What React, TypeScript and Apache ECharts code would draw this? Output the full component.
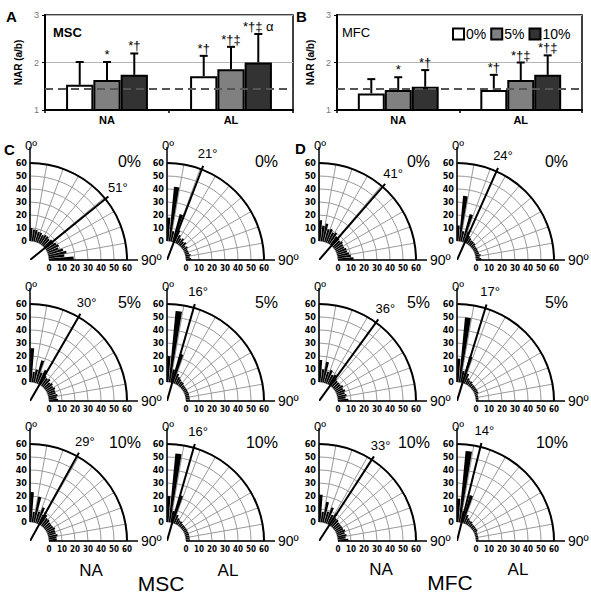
import React, { useEffect, useRef } from 'react';
import * as echarts from 'echarts';

// ---------- data ----------
const groups = ['NA', 'AL'];
const concentrations = ['0%', '5%', '10%'];
const baselineNAR = 1.44;

// Panel A (MSC)
const mscMean0 = [1.53, 1.71];
const mscMean5 = [1.63, 1.86];
const mscMean10 = [1.74, 2.0];
const mscErr0 = [2.01, 2.14];
const mscErr5 = [2.01, 2.33];
const mscErr10 = [2.19, 2.6];
const mscSig0 = ['', '*†'];
const mscSig5 = ['*', '*†‡'];
const mscSig10 = ['*†', '*†‡ α'];

// Panel B (MFC)
const mfcMean0 = [1.35, 1.42];
const mfcMean5 = [1.42, 1.63];
const mfcMean10 = [1.49, 1.74];
const mfcErr0 = [1.65, 1.74];
const mfcErr5 = [1.69, 2.0];
const mfcErr10 = [1.84, 2.15];
const mfcSig0 = ['', '*†'];
const mfcSig5 = ['*', '*†‡'];
const mfcSig10 = ['*†', '*†‡'];

// Panels C, D: angular distributions (5° bins, 0°..90°)
const angleBins = ['0', '5', '10', '15', '20', '25', '30', '35', '40', '45', '50', '55', '60', '65', '70', '75', '80', '85'];
const mscNa0 = [10, 9, 9, 8, 8, 7, 8, 8, 7, 8, 8, 9, 10, 9, 12, 14, 12, 19];
const mscAl0 = [18, 42, 8, 22, 10, 7, 5, 6, 4, 5, 3, 4, 3, 3, 3, 4, 3, 4];
const mscNa5 = [26, 8, 10, 18, 9, 12, 8, 7, 8, 6, 7, 6, 7, 6, 6, 7, 6, 7];
const mscAl5 = [20, 55, 10, 23, 8, 6, 5, 4, 4, 3, 3, 3, 3, 3, 3, 3, 3, 3];
const mscNa10 = [23, 8, 20, 9, 13, 8, 9, 7, 7, 6, 6, 6, 7, 6, 6, 7, 6, 6];
const mscAl10 = [20, 53, 9, 22, 7, 5, 4, 4, 3, 3, 3, 3, 3, 3, 3, 3, 3, 3];
const mfcNa0 = [16, 12, 14, 10, 11, 9, 10, 8, 8, 7, 8, 7, 7, 8, 8, 9, 10, 12];
const mfcAl0 = [12, 35, 8, 22, 9, 6, 5, 4, 4, 4, 3, 3, 3, 3, 3, 4, 3, 4];
const mfcNa5 = [17, 10, 16, 9, 11, 8, 9, 7, 6, 6, 6, 7, 6, 7, 6, 7, 6, 8];
const mfcAl5 = [18, 50, 9, 21, 8, 5, 4, 4, 3, 3, 3, 3, 3, 3, 2, 2, 2, 2];
const mfcNa10 = [21, 8, 16, 9, 13, 8, 10, 7, 7, 6, 6, 6, 6, 7, 6, 7, 6, 8];
const mfcAl10 = [18, 55, 9, 22, 7, 5, 4, 4, 3, 3, 3, 3, 3, 2, 2, 2, 2, 2];
const mscNaMean = [51, 30, 29];
const mscAlMean = [21, 16, 16];
const mfcNaMean = [41, 36, 33];
const mfcAlMean = [24, 17, 14];

// ---------- layout / style ----------
const FONT = "'Liberation Sans', Arial, sans-serif";
const NARROW = "'Liberation Sans Narrow', 'DejaVu Sans Condensed', sans-serif";
const BAR_COLORS = ['#ffffff', '#808080', '#333333'];
const BAR_GAP = 0.34;
const COL_X = [30, 167, 319, 457];
const ROW_Y = [260, 401, 541];
const R0 = 19;
const R1 = 97;
const MEAN_MAX = 1.2;

function errorSeries(gi: number, k: number, means: number[], tops: number[], sigs: string[]) {
  return {
    type: 'custom',
    xAxisIndex: gi,
    yAxisIndex: gi,
    z: 4,
    silent: true,
    data: means.map((m, i) => [i, m, tops[i]]),
    renderItem: (params: any, api: any) => {
      const i = api.value(0);
      const top = api.coord([i, api.value(2)]);
      const bot = api.coord([i, api.value(1)]);
      const band = api.size([1, 0])[0];
      const bw = (band * (1 - BAR_GAP)) / 3;
      const x = top[0] + (k - 1) * bw;
      const children: any[] = [
        { type: 'line', shape: { x1: x, y1: bot[1], x2: x, y2: top[1] }, style: { stroke: '#000', lineWidth: 2 } },
        { type: 'line', shape: { x1: x - 4, y1: top[1], x2: x + 4, y2: top[1] }, style: { stroke: '#000', lineWidth: 2 } },
      ];
      const s = sigs[params.dataIndex];
      if (s) {
        children.push({
          type: 'text',
          x,
          y: top[1] - 1,
          style: { text: s, align: 'center', verticalAlign: 'bottom', fontSize: 13, fontFamily: FONT, fill: '#000' },
        });
      }
      return { type: 'group', children };
    },
  };
}

function buildOption() {
  const polar: any[] = [];
  const angleAxis: any[] = [];
  const radiusAxis: any[] = [];
  const series: any[] = [];
  const graphic: any[] = [];

  // ---- bar charts A & B ----
  const barSets = [
    { means: [mscMean0, mscMean5, mscMean10], errs: [mscErr0, mscErr5, mscErr10], sigs: [mscSig0, mscSig5, mscSig10] },
    { means: [mfcMean0, mfcMean5, mfcMean10], errs: [mfcErr0, mfcErr5, mfcErr10], sigs: [mfcSig0, mfcSig5, mfcSig10] },
  ];
  barSets.forEach((set, gi) => {
    concentrations.forEach((name, k) => {
      const s: any = {
        type: 'bar',
        name,
        xAxisIndex: gi,
        yAxisIndex: gi,
        data: set.means[k],
        barGap: '0%',
        barCategoryGap: BAR_GAP * 100 + '%',
        itemStyle: { color: BAR_COLORS[k], borderColor: '#000', borderWidth: 2 },
        z: 2,
      };
      if (k === 0) {
        s.markLine = {
          silent: true,
          symbol: 'none',
          label: { show: false },
          lineStyle: { type: [8, 5], color: '#555', width: 2 },
          data: [{ yAxis: baselineNAR }],
          z: 6,
        };
      }
      series.push(s);
      series.push(errorSeries(gi, k, set.means[k], set.errs[k], set.sigs[k]));
    });
  });

  // ---- polar rose plots C & D ----
  const cols = [
    { data: [mscNa0, mscNa5, mscNa10], mean: mscNaMean },
    { data: [mscAl0, mscAl5, mscAl10], mean: mscAlMean },
    { data: [mfcNa0, mfcNa5, mfcNa10], mean: mfcNaMean },
    { data: [mfcAl0, mfcAl5, mfcAl10], mean: mfcAlMean },
  ];
  const radLabel = { show: true, fontSize: 8, fontWeight: 'bold', fontFamily: NARROW, color: '#000' };
  cols.forEach((col, c) => {
    concentrations.forEach((conc, r) => {
      const cx = COL_X[c];
      const cy = ROW_Y[r];
      const b = polar.length;
      polar.push(
        { center: [cx, cy], radius: [R0, R1] },
        { center: [cx, cy], radius: [R0, R1] },
        { center: [cx, cy], radius: [R0, R1] },
        { center: [cx, cy], radius: [0, R1 * MEAN_MAX] }
      );
      angleAxis.push(
        {
          polarIndex: b, type: 'value', min: 0, max: 90, interval: 10, startAngle: 90, endAngle: 0, clockwise: true,
          axisLine: { show: false },
          axisTick: { show: false }, axisLabel: { show: false },
          splitLine: { show: true, lineStyle: { color: '#9a9a9a', width: 1 } },
        },
        { polarIndex: b + 1, type: 'value', min: 0, max: 90, startAngle: 0, endAngle: 90, clockwise: false, show: false },
        { polarIndex: b + 2, type: 'category', data: angleBins, startAngle: 90, endAngle: 0, clockwise: true, show: false },
        { polarIndex: b + 3, type: 'value', min: 0, max: 90, startAngle: 90, endAngle: 0, clockwise: true, show: false }
      );
      radiusAxis.push(
        {
          polarIndex: b, type: 'value', min: 0, max: 60, interval: 10,
          axisLine: { show: false }, axisTick: { show: false },
          axisLabel: { ...radLabel, fontSize: 9, margin: 3 },
          splitLine: { show: true, lineStyle: { color: '#9a9a9a', width: 1 } },
        },
        {
          polarIndex: b + 1, type: 'value', min: 0, max: 60, interval: 10,
          axisLine: { show: false }, axisTick: { show: false },
          axisLabel: { ...radLabel, margin: -4, verticalAlign: 'top', align: 'center', showMinLabel: true },
          splitLine: { show: false },
        },
        { polarIndex: b + 2, type: 'value', min: 0, max: 60, show: false },
        { polarIndex: b + 3, type: 'value', min: 0, max: MEAN_MAX, show: false }
      );
      const theta = col.mean[r];
      series.push(
        {
          type: 'bar', coordinateSystem: 'polar', polarIndex: b + 2, data: col.data[r],
          barCategoryGap: '18%', itemStyle: { color: '#000' }, silent: true, z: 3,
        },
        {
          type: 'line', coordinateSystem: 'polar', polarIndex: b + 3,
          data: [[0, theta], [1.04, theta]], symbol: 'none', clip: false,
          lineStyle: { color: '#000', width: 2 }, silent: true, z: 5,
        },
        {
          type: 'scatter', coordinateSystem: 'polar', polarIndex: b + 3,
          data: [[1.165, theta]], symbolSize: 1, itemStyle: { color: '#000', opacity: 0 }, silent: true, z: 5,
          label: {
            show: true, position: 'top', distance: -6, formatter: theta + '°', fontSize: 13, fontFamily: FONT,
            color: '#000', textBorderWidth: 0, textBorderColor: 'transparent', opacity: 1,
          },
        }
      );
      graphic.push(
        {
          type: 'arc', z: 10,
          shape: { cx, cy, r: R1, startAngle: -Math.PI / 2, endAngle: 0, clockwise: true },
          style: { stroke: '#000', lineWidth: 2, fill: 'none' },
        },
        { type: 'line', z: 10, shape: { x1: cx, y1: cy - R0, x2: cx, y2: cy - 113 }, style: { stroke: '#000', lineWidth: 1.5 } },
        { type: 'line', z: 10, shape: { x1: cx + R0, y1: cy, x2: cx + 108, y2: cy }, style: { stroke: '#000', lineWidth: 1.5 } },
        { type: 'text', x: cx + 1, y: cy - 115, style: { text: '0º', fontSize: 13, fontFamily: FONT, fill: '#000', align: 'center', verticalAlign: 'middle' } },
        { type: 'text', x: cx + 111, y: cy, style: { text: '90º', fontSize: 14, fontFamily: FONT, fill: '#000', align: 'left', verticalAlign: 'middle' } },
        { type: 'text', x: cx + 111, y: cy - 99, style: { text: conc, fontSize: 16, fontFamily: FONT, fill: '#000', align: 'right', verticalAlign: 'middle' } }
      );
    });
  });

  const txt = (text: string, x: number, y: number, fontSize: number, fontWeight = 'normal', align = 'center') => ({
    type: 'text', x, y, z: 10,
    style: { text, fontSize, fontWeight, fontFamily: FONT, fill: '#000', align, verticalAlign: 'middle' },
  });
  graphic.push(
    txt('A', 6, 16, 15, 'bold', 'left'),
    txt('B', 296, 16, 15, 'bold', 'left'),
    txt('C', 4, 149, 15, 'bold', 'left'),
    txt('D', 295, 148, 15, 'bold', 'left'),
    txt('MSC', 53, 32, 13, 'bold', 'left'),
    txt('MFC', 342, 32, 13, 'normal', 'left'),
    txt('NA', 91, 570, 17),
    txt('AL', 228, 570, 17),
    txt('MSC', 161, 583, 21),
    txt('NA', 381, 569, 17),
    txt('AL', 518, 569, 17),
    txt('MFC', 450, 582, 21)
  );

  const mkX = (gi: number) => ({
    gridIndex: gi, type: 'category', data: groups,
    axisLine: { show: true, lineStyle: { color: '#000', width: 2 } },
    axisTick: { show: true, length: 3, lineStyle: { color: '#000', width: 1.5 } },
    axisLabel: { fontWeight: 'bold', fontSize: 11, color: '#000', margin: 4, fontFamily: FONT },
  });
  const mkY = (gi: number) => ({
    gridIndex: gi, type: 'value', min: 1, max: 3, interval: 1,
    name: 'NAR (a/b)', nameLocation: 'middle', nameGap: 22,
    nameTextStyle: { fontWeight: 'bold', fontSize: 10, color: '#000', fontFamily: FONT },
    axisLine: { show: true, lineStyle: { color: '#000', width: 2 } },
    axisTick: { show: true, length: 3, lineStyle: { color: '#000' } },
    axisLabel: { fontSize: 9, color: '#777', margin: 6, fontFamily: FONT },
    splitLine: { show: true, lineStyle: { color: '#b5b5b5', width: 1 } },
  });

  return {
    animation: false,
    backgroundColor: '#fff',
    textStyle: { fontFamily: FONT },
    grid: [
      { left: 45, top: 15, width: 248, height: 95, show: true, borderColor: '#000', borderWidth: 1.5, backgroundColor: 'transparent' },
      { left: 337, top: 15, width: 245, height: 95, show: true, borderColor: '#000', borderWidth: 1.5, backgroundColor: 'transparent' },
    ],
    xAxis: [mkX(0), mkX(1)],
    yAxis: [mkY(0), mkY(1)],
    legend: {
      data: concentrations, left: 447, top: 22, itemWidth: 11, itemHeight: 11, itemGap: 4, icon: 'rect',
      textStyle: { fontSize: 14, fontFamily: FONT, color: '#000', padding: [0, 0, 0, -3] },
      selectedMode: false,
    },
    polar,
    angleAxis,
    radiusAxis,
    series,
    graphic,
  };
}

export default function App() {
  const ref = useRef<HTMLDivElement>(null);
  useEffect(() => {
    const chart = echarts.init(ref.current as HTMLDivElement, null, { renderer: 'svg' });
    chart.setOption(buildOption() as any);
    return () => chart.dispose();
  }, []);
  return (
    <div
      ref={ref}
      style={{ position: 'fixed', left: 0, top: 0, width: 591, height: 599, background: '#fff' }}
    />
  );
}
